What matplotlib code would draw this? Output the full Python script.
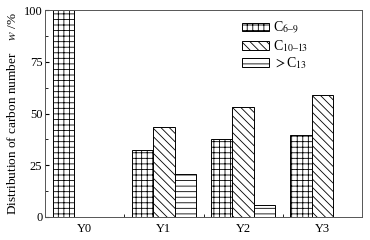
import numpy as np
import matplotlib
matplotlib.use("Agg")
import matplotlib.pyplot as plt
from matplotlib.ticker import MultipleLocator, FixedLocator

plt.rcParams['font.family'] = ['Liberation Serif', 'DejaVu Serif']
plt.rcParams['mathtext.fontset'] = 'stix'
plt.rcParams['hatch.linewidth'] = 0.6

# data
groups = ["Y0", "Y1", "Y2", "Y3"]
c6_9 = [100, 32.5, 37.5, 39.5]
c10_13 = [0, 43.5, 53, 59]
c13_up = [0, 21, 6, 0]
labels = ["C$_{6\u20139}$", "C$_{10\u201313}$", "$>$C$_{13}$"]
hatches = ["+++", "\\\\\\\\", "---"]

fig = plt.figure(figsize=(3.7, 2.4), dpi=100)
ax = fig.add_axes([0.122, 0.096, 0.856, 0.862])

x = np.arange(len(groups))
w = 0.27
series = [c6_9, c10_13, c13_up]
for i, vals in enumerate(series):
    xs, hs = [], []
    for xi, v in zip(x, vals):
        if v > 0:
            xs.append(xi + (i - 1) * w)
            hs.append(v)
    ax.bar(xs, hs, width=w, facecolor='white', edgecolor='black',
           linewidth=0.7, hatch=hatches[i], label=labels[i])

ax.set_xlim(-0.5, 3.5)
ax.set_ylim(0, 100)
ax.set_xticks(x)
ax.set_xticklabels(groups, fontsize=9)
ax.tick_params(axis='x', which='major', length=0, pad=4)
ax.xaxis.set_minor_locator(FixedLocator([0.5, 1.5, 2.5]))
ax.tick_params(axis='x', which='minor', length=2, direction='in')
ax.yaxis.set_major_locator(MultipleLocator(25))
ax.yaxis.set_minor_locator(MultipleLocator(12.5))
ax.tick_params(axis='y', which='major', length=3, direction='in', labelsize=9, pad=2)
ax.tick_params(axis='y', which='minor', length=2, direction='in')
for s in ax.spines.values():
    s.set_color('#555555')
    s.set_linewidth(0.7)

ax.set_ylabel("Distribution of carbon number    $w$ /%", fontsize=9.5, labelpad=3)

ax.legend(loc='upper left', bbox_to_anchor=(0.6, 0.985), frameon=False,
          fontsize=10, handlelength=1.9, handleheight=0.6,
          labelspacing=0.12, handletextpad=0.3, borderpad=0)

fig.savefig("out.png", dpi=100)
